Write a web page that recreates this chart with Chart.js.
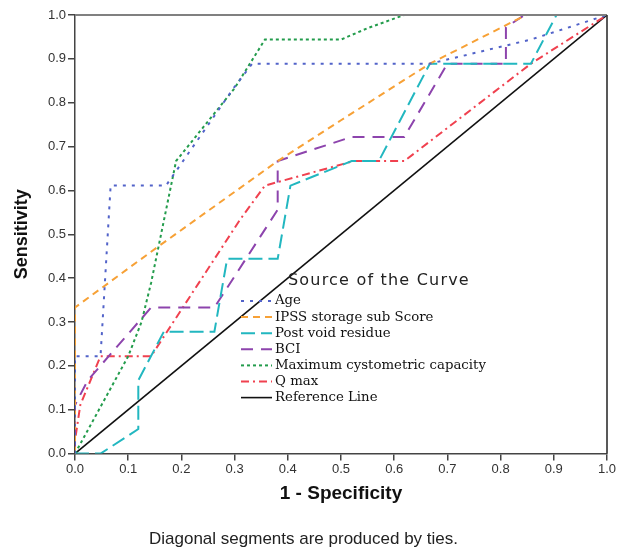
<!DOCTYPE html>
<html>
<head>
<meta charset="utf-8">
<script src="https://cdn.jsdelivr.net/npm/chart.js@4"></script>
<style>
  body { margin: 0; background: #fff; }
</style>
</head>
<body>
<canvas id="myChart" width="618" height="552"></canvas>
<script>
// ROC curves (1 - specificity, sensitivity)
const tickLabels = ['0.0', '0.1', '0.2', '0.3', '0.4', '0.5', '0.6', '0.7', '0.8', '0.9', '1.0'];

const ageX = [0, 0, 0.048, 0.067, 0.171, 0.298, 0.333, 0.667, 0.857, 1];
const ageY = [0, 0.222, 0.222, 0.611, 0.611, 0.833, 0.889, 0.889, 0.944, 1];

const ipssX = [0, 0, 0.154, 0.381, 0.5, 0.667, 0.848, 1];
const ipssY = [0, 0.333, 0.47, 0.667, 0.76, 0.889, 1, 1];

const pvrX = [0, 0.048, 0.119, 0.119, 0.167, 0.262, 0.286, 0.381, 0.405, 0.52, 0.571, 0.667, 0.857, 0.905, 1];
const pvrY = [0, 0, 0.056, 0.167, 0.278, 0.278, 0.444, 0.444, 0.611, 0.667, 0.667, 0.889, 0.889, 1, 1];

const bciX = [0, 0, 0.024, 0.143, 0.262, 0.381, 0.381, 0.52, 0.619, 0.7, 0.81, 0.81, 0.845, 1];
const bciY = [0, 0.111, 0.167, 0.333, 0.333, 0.556, 0.667, 0.722, 0.722, 0.889, 0.889, 0.972, 1, 1];

const mccX = [0, 0.1, 0.125, 0.143, 0.19, 0.3, 0.357, 0.5, 0.55, 0.619, 1];
const mccY = [0, 0.222, 0.3, 0.389, 0.667, 0.833, 0.944, 0.944, 0.97, 1, 1];

const qmaxX = [0, 0, 0.01, 0.048, 0.143, 0.31, 0.357, 0.524, 0.619, 0.857, 1];
const qmaxY = [0, 0.03, 0.111, 0.222, 0.222, 0.533, 0.611, 0.667, 0.667, 0.889, 1];

const refX = [0, 1];
const refY = [0, 1];

function pts(xs, ys) {
    return xs.map((x, i) => ({ x: x, y: ys[i] }));
}

function line(label, xs, ys, color, dash, width) {
    return {
        label: label,
        data: pts(xs, ys),
        showLine: true,
        borderColor: color,
        backgroundColor: color,
        borderWidth: width || 2,
        borderDash: dash,
        pointRadius: 0,
        fill: false,
        tension: 0
    };
}

const datasets = [
    line('Age', ageX, ageY, '#5263c9', [3, 6]),
    line('IPSS storage sub Score', ipssX, ipssY, '#f7a136', [7, 5]),
    line('Post void residue', pvrX, pvrY, '#22b7c0', [14, 6]),
    line('BCI', bciX, bciY, '#8d44ad', [12, 8]),
    line('Maximum cystometric capacity', mccX, mccY, '#239c4c', [3, 3]),
    line('Q max', qmaxX, qmaxY, '#f0414f', [8, 4, 2, 4]),
    line('Reference Line', refX, refY, '#111111', [], 1.6)
];

// frame lines on top and right + the in-plot legend
const extras = {
    id: 'extras',
    afterDraw(chart) {
        const ctx = chart.ctx;
        const a = chart.chartArea;
        ctx.save();
        ctx.strokeStyle = '#808080';
        ctx.lineWidth = 2;
        ctx.beginPath();
        ctx.moveTo(a.left, a.top);
        ctx.lineTo(a.right, a.top);
        ctx.stroke();
        ctx.strokeStyle = '#222';
        ctx.lineWidth = 1.5;
        ctx.beginPath();
        ctx.moveTo(a.right, a.top);
        ctx.lineTo(a.right, a.bottom);
        ctx.stroke();

        // legend
        ctx.fillStyle = '#222';
        ctx.textBaseline = 'middle';
        ctx.font = '16px "DejaVu Sans"';
        ctx.letterSpacing = '1.2px';
        ctx.fillText('Source of the Curve', 288, 281);
        ctx.letterSpacing = '0px';
        ctx.font = '13.3px "DejaVu Serif"';
        chart.data.datasets.forEach((ds, i) => {
            const y = 301 + i * 16.1;
            ctx.strokeStyle = ds.borderColor;
            ctx.lineWidth = ds.borderWidth;
            ctx.setLineDash(ds.borderDash);
            ctx.beginPath();
            ctx.moveTo(241, y);
            ctx.lineTo(272, y);
            ctx.stroke();
            ctx.setLineDash([]);
            ctx.fillStyle = '#111';
            ctx.fillText(ds.label, 275, y);
        });
        ctx.restore();
    }
};

const tickFont = { family: '"Liberation Sans", Arial', size: 13 };

const ctx = document.getElementById('myChart').getContext('2d');
const myChart = new Chart(ctx, {
    type: 'scatter',
    data: { datasets: datasets },
    options: {
        responsive: false,
        animation: false,
        devicePixelRatio: 1,
        layout: { padding: { top: 15, right: 11, left: 0, bottom: 0 } },
        plugins: {
            legend: { display: false },
            tooltip: { enabled: false },
            title: {
                display: true,
                position: 'bottom',
                text: 'Diagonal segments are produced by ties.',
                color: '#222',
                font: { family: '"Liberation Sans", Arial', size: 17, weight: 'normal' },
                padding: { top: 21, bottom: 2 }
            }
        },
        scales: {
            x: {
                type: 'linear',
                min: 0,
                max: 1,
                ticks: {
                    stepSize: 0.1,
                    color: '#333',
                    font: tickFont,
                    padding: 1,
                    maxRotation: 0,
                    callback: (v) => tickLabels[Math.round(v * 10)]
                },
                grid: { drawOnChartArea: false, drawTicks: true, tickLength: 7, color: '#444', lineWidth: 1.5 },
                border: { display: true, color: '#444', width: 1.5 },
                title: {
                    display: true,
                    text: '1 - Specificity',
                    color: '#111',
                    font: { family: '"Liberation Sans", Arial', size: 19, weight: 'bold' },
                    padding: { top: 0, bottom: 3 }
                },
                afterFit: (scale) => { scale.height = 55; }
            },
            y: {
                type: 'linear',
                min: 0,
                max: 1,
                ticks: {
                    stepSize: 0.1,
                    color: '#333',
                    font: tickFont,
                    padding: 2,
                    callback: (v) => tickLabels[Math.round(v * 10)]
                },
                grid: { drawOnChartArea: false, drawTicks: true, tickLength: 7, color: '#444', lineWidth: 1.5 },
                border: { display: true, color: '#444', width: 1.5 },
                title: {
                    display: true,
                    text: 'Sensitivity',
                    color: '#111',
                    font: { family: '"Liberation Sans", Arial', size: 18, weight: 'bold' },
                    padding: { top: 11, bottom: 0 }
                },
                afterFit: (scale) => { scale.width = 75; }
            }
        }
    },
    plugins: [extras]
});
</script>
</body>
</html>
